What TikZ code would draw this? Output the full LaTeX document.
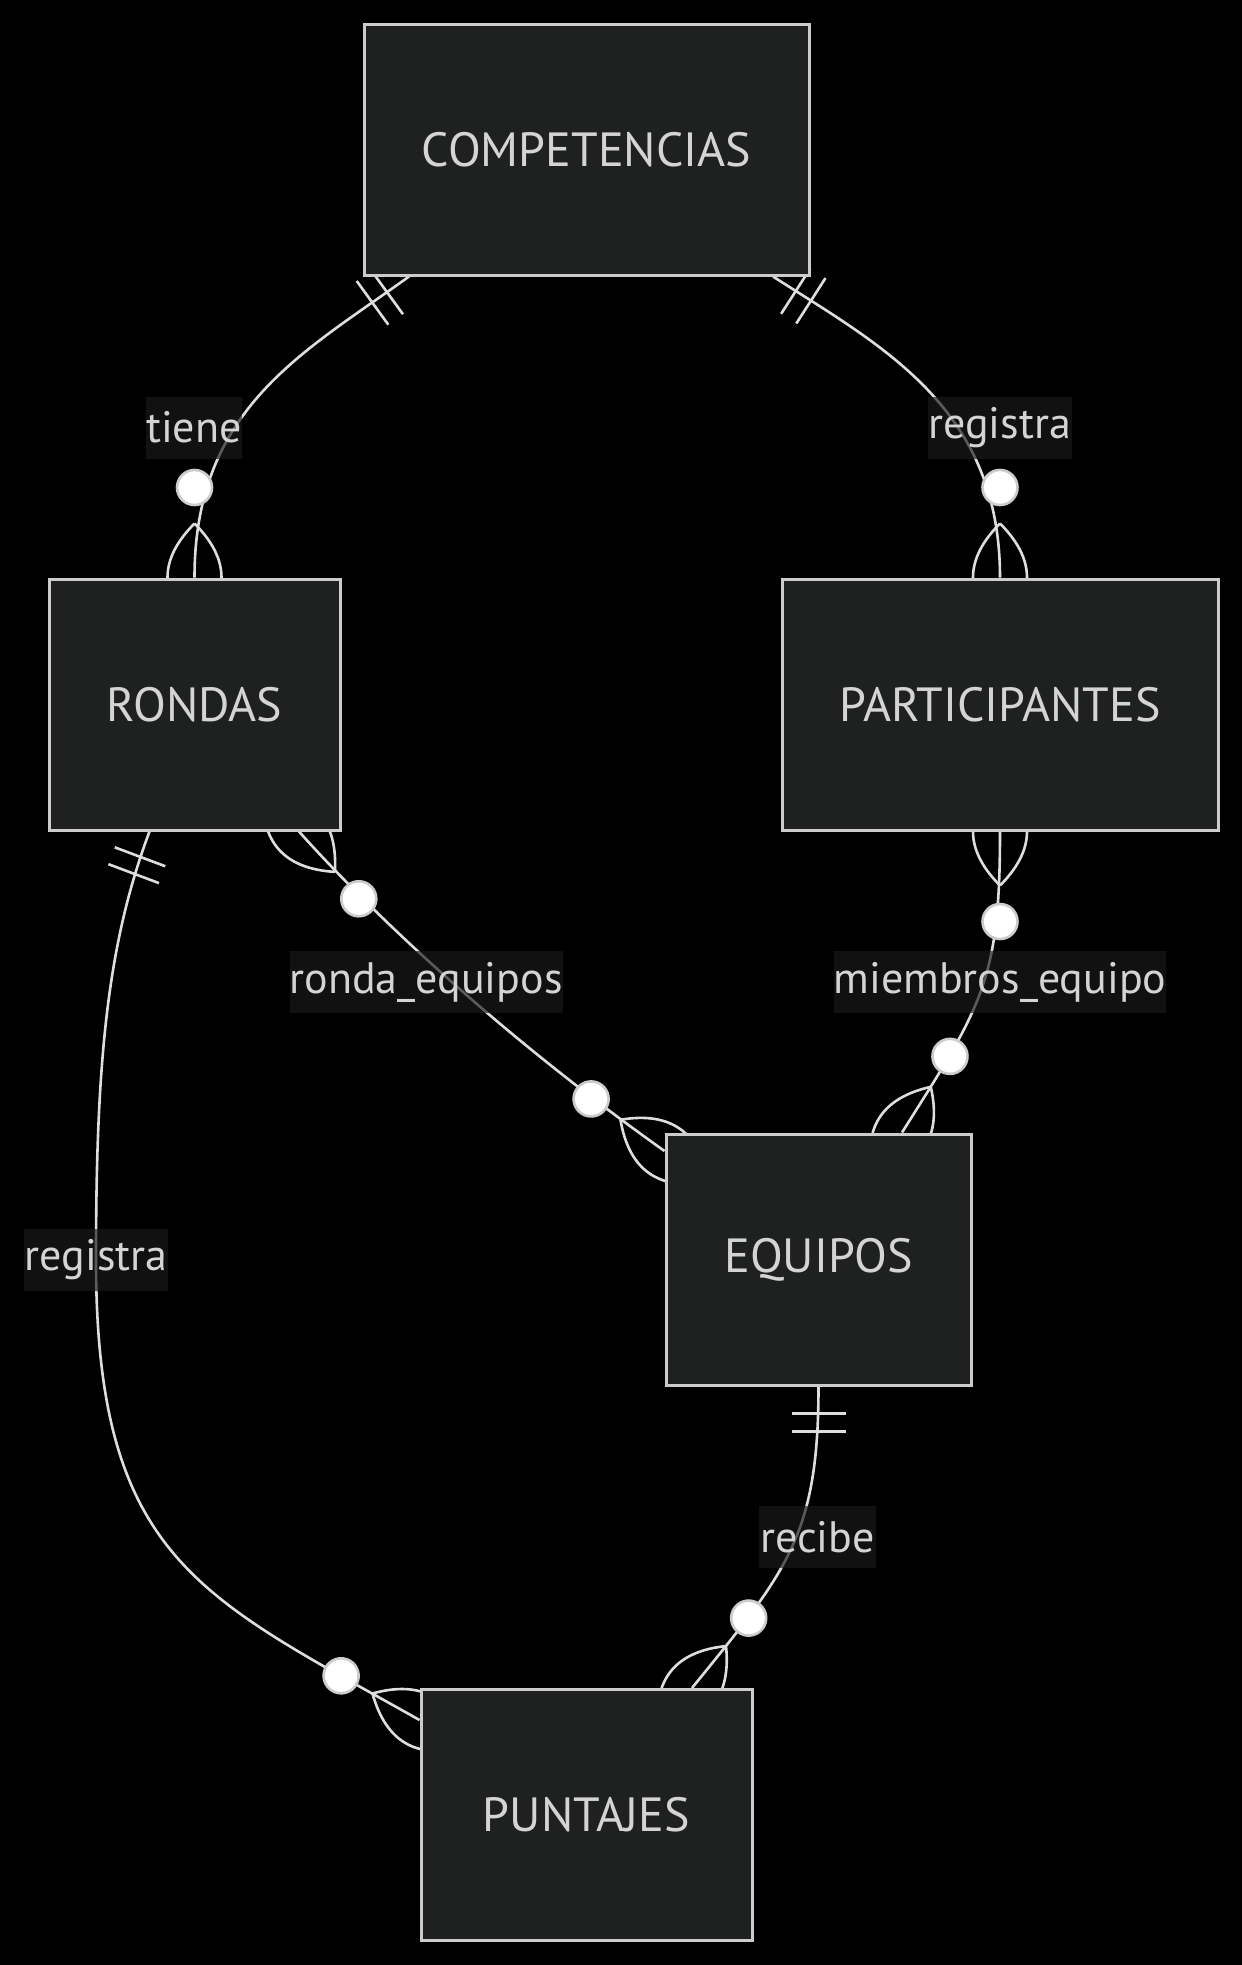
\documentclass[tikz,border=0pt]{standalone}
\usepackage{fontspec}
\setmainfont{PT Sans}
\usetikzlibrary{calc,decorations.markings}
\definecolor{boxfill}{RGB}{31,32,32}
\definecolor{boxline}{RGB}{204,204,204}
\definecolor{txt}{RGB}{212,212,212}
\definecolor{edgec}{RGB}{222,222,222}
\definecolor{labbg}{RGB}{26,26,26}
\pgfdeclarelayer{bottom}
\pgfdeclarelayer{edges}
\pgfsetlayers{bottom,edges,main}
\newcommand\mkOneStart{\draw[erline] (27,-27)--(27,27) (45,-27)--(45,27);}
\newcommand\mkManyStart{\draw[erline] (54,0) .. controls (18,36) and (-18,36) .. (-54,0) .. controls (-18,-36) and (18,-36) .. (54,0);
  \draw[erdot] (90,0) circle[radius=17.5pt];}
\tikzset{
  entity/.style={draw=boxline, line width=3pt, fill=boxfill, text=txt,
    font=\fontsize{48}{56}\selectfont, inner sep=0pt, minimum height=251pt},
  rellabel/.style={fill=labbg, fill opacity=0.67, text opacity=1, text=txt,
    font=\fontsize{44}{52}\selectfont, inner sep=0pt, minimum height=62pt},
  erline/.style={draw=edgec, line width=2.6pt},
  erdot/.style={draw=boxline, fill=white, line width=2.6pt},
  startone/.style={postaction={decorate, decoration={markings,
      mark=at position 0 with {\mkOneStart}}}},
  startmany/.style={postaction={decorate, decoration={markings,
      mark=at position 0 with {\mkManyStart}}}}
}
\begin{document}
\begin{tikzpicture}[x=1pt,y=-1pt]
\begin{pgfonlayer}{bottom}
\fill[black] (0,0) rectangle (1242,1965);
\end{pgfonlayer}
\useasboundingbox (0,0) rectangle (1242,1965);

% entities
\node[entity, minimum width=445pt] (comp) at (586.5,149.5) {COMPETENCIAS};
\node[entity, minimum width=291pt] (rondas) at (194.5,704.5) {RONDAS};
\node[entity, minimum width=436pt] (part) at (1000,704.5) {PARTICIPANTES};
\node[entity, minimum width=305pt] (equi) at (818.5,1259.5) {EQUIPOS};
\node[entity, minimum width=331pt] (punt) at (586.5,1815) {PUNTAJES};

% relationship labels
\node[rellabel, minimum width=96pt] (l1) at (194,427.5) {tiene};
\node[rellabel, minimum width=144pt] (l2) at (999.7,427.5) {registra};
\node[rellabel, minimum width=273pt] (l3) at (426,982) {ronda\_equipos};
\node[rellabel, minimum width=332pt] (l4) at (1000,982) {miembros\_equipo};
\node[rellabel, minimum width=117pt] (l5) at (817.5,1537) {recibe};
\node[rellabel, minimum width=144pt] (l6) at (96,1260) {registra};

% connection points on the entity borders
\coordinate (t1) at ($(comp.south)+(-177.5,0)$);
\coordinate (t2) at ($(comp.south)+(186.5,0)$);
\coordinate (r3) at ($(rondas.south)+(104.5,0)$);
\coordinate (e3) at ($(equi.west)+(0,-108.5)$);
\coordinate (e4) at ($(equi.north)+(83.5,0)$);
\coordinate (p5) at ($(punt.north)+(105.5,0)$);
\coordinate (r6) at ($(rondas.south)+(-45,0)$);
\coordinate (p6) at ($(punt.west)+(0,-95)$);

% connectors (each drawn once, end markers placed from the other side)
\begin{pgfonlayer}{edges}
% tiene: COMPETENCIAS ||--o{ RONDAS
\draw[erline, startone] (t1) .. controls +(-105,76) and +(0,-170) .. (rondas.north);
\path[startmany] (rondas.north) .. controls +(0,-170) and +(-105,76) .. (t1);
% registra: COMPETENCIAS ||--o{ PARTICIPANTES
\draw[erline, startone] (t2) .. controls +(109,70) and +(0,-170) .. (part.north);
\path[startmany] (part.north) .. controls +(0,-170) and +(109,70) .. (t2);
% ronda_equipos: RONDAS }o--o{ EQUIPOS
\draw[erline, startmany] (r3) .. controls +(40,45) and +(-200,-142) .. (e3);
\path[startmany] (e3) .. controls +(-200,-142) and +(40,45) .. (r3);
% miembros_equipo: PARTICIPANTES }o--o{ EQUIPOS
\draw[erline, startmany] (part.south) .. controls +(0,150) and +(80,-127) .. (e4);
\path[startmany] (e4) .. controls +(80,-127) and +(0,150) .. (part.south);
% recibe: EQUIPOS ||--o{ PUNTAJES
\draw[erline, startone] (equi.south) .. controls +(0,150) and +(94.5,-116.6) .. (p5);
\path[startmany] (p5) .. controls +(94.5,-116.6) and +(0,150) .. (equi.south);
% registra: RONDAS ||--o{ PUNTAJES
\draw[erline, startone] (r6) .. controls +(-42,112) and +(0,-200) .. (l6.center)
   .. controls +(0,300) and +(-218,-123) .. (p6);
\path[startmany] (p6) .. controls +(-218,-123) and +(0,300) .. (l6.center)
   .. controls +(0,-200) and +(-42,112) .. (r6);
\end{pgfonlayer}
\end{tikzpicture}
\end{document}
